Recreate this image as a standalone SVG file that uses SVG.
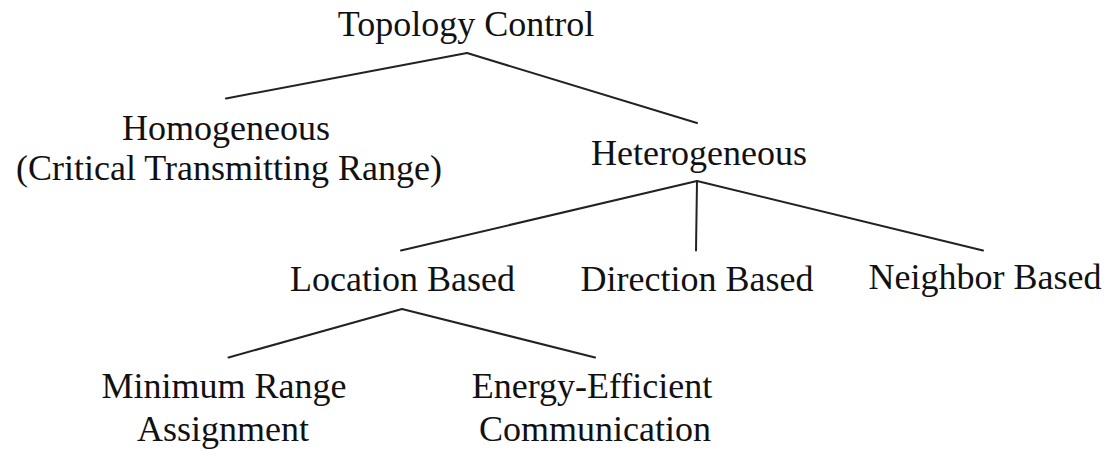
<svg xmlns="http://www.w3.org/2000/svg" width="1104" height="451" viewBox="0 0 1104 451">
<style>
text{font-family:"Liberation Serif","DejaVu Serif",serif;font-size:36px;fill:#111;text-anchor:middle}
.c line{stroke:#222;stroke-width:2;stroke-linecap:round}
</style>
<rect width="1104" height="451" fill="#fff"/>
<g class="c" id="connectors">
<line x1="467" y1="53" x2="226" y2="98.5"/>
<line x1="467" y1="53" x2="697" y2="123"/>
<line x1="697" y1="181" x2="401" y2="250.5"/>
<line x1="697" y1="181" x2="696" y2="250.5"/>
<line x1="697" y1="181" x2="983" y2="250.5"/>
<line x1="402" y1="309" x2="228.5" y2="357.5"/>
<line x1="402" y1="309" x2="595" y2="357.5"/>
</g>
<g id="topology"><text x="466" y="36">Topology Control</text></g>
<g id="homogeneous"><text x="226" y="140">Homogeneous</text><text x="229" y="180">(Critical Transmitting Range)</text></g>
<g id="heterogeneous"><text x="699" y="165">Heterogeneous</text></g>
<g id="location"><text x="402.5" y="291">Location Based</text></g>
<g id="direction"><text x="697" y="291">Direction Based</text></g>
<g id="neighbor"><text x="985" y="289">Neighbor Based</text></g>
<g id="minrange"><text x="224" y="398">Minimum Range</text><text x="223" y="441">Assignment</text></g>
<g id="energy"><text x="592" y="398">Energy-Efficient</text><text x="595" y="441">Communication</text></g>
</svg>
